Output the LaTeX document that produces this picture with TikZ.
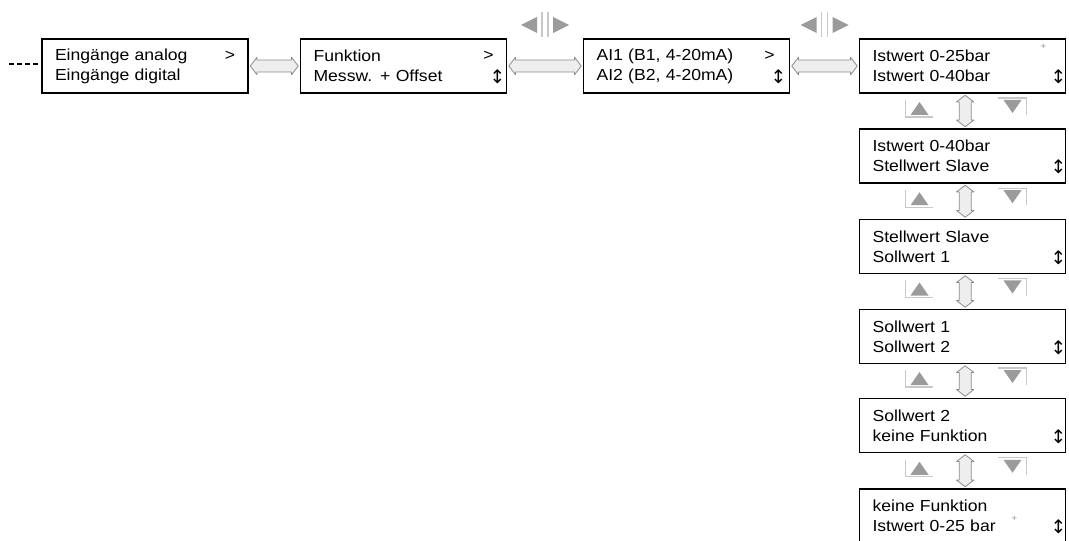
\documentclass[tikz,border=0pt]{standalone}
\usepackage{fontspec}
\setmainfont{Liberation Sans}[FakeStretch=1.1]
\newfontfamily\symfont{DejaVu Sans}
\usepackage{tikz}
\usetikzlibrary{arrows.meta,positioning,calc}
\definecolor{mnGray}  {RGB}{140,140,140}
\definecolor{mnGrayL} {RGB}{238,238,238}
\definecolor{mnIcon}  {RGB}{155,155,155}
\definecolor{mnIconL} {RGB}{200,200,200}

% hollow double-headed link between two anchors
\newcommand{\dblink}[2]{%
  \draw[dbl] (#1)
    -- ($($(#1)!5pt!(#2)$)!6.5pt!90:(#2)$)
    -- ($($(#1)!5pt!(#2)$)!4.5pt!90:(#2)$)
    -- ($($(#2)!5pt!(#1)$)!4.5pt!-90:(#1)$)
    -- ($($(#2)!5pt!(#1)$)!6.5pt!-90:(#1)$)
    -- (#2)
    -- ($($(#2)!5pt!(#1)$)!6.5pt!90:(#1)$)
    -- ($($(#2)!5pt!(#1)$)!4.5pt!90:(#1)$)
    -- ($($(#1)!5pt!(#2)$)!4.5pt!-90:(#2)$)
    -- ($($(#1)!5pt!(#2)$)!6.5pt!-90:(#2)$)
    -- cycle;}

\begin{document}
\begin{tikzpicture}[
  x=0.75pt,y=-0.75pt,
  every node/.style={font=\fontsize{12}{15}\selectfont},
  menu/.style={draw,line width=1.4pt,text width=135pt,inner xsep=9.75pt,
               inner ysep=0pt,minimum height=40.5pt,align=left},
  gt/.style={inner sep=0pt},
  ud/.style={inner sep=0pt,font=\symfont\fontsize{14}{14}\selectfont},
  tick/.style={inner sep=0pt,text=mnIcon,font=\fontsize{7}{7}\selectfont},
  dbl/.style={draw=mnGray,line width=0.6pt,fill=mnGrayL,line join=round},
  lricon/.pic={
    \fill[mnIcon] (-24,0) -- (-8,-8) -- (-8,8) -- cycle;
    \fill[mnIcon] (24,0) -- (8,-8) -- (8,8) -- cycle;
    \draw[mnIconL,line width=0.9pt] (-3,-13) -- (-3,12) (3,-13) -- (3,12);
  },
  udicon/.pic={
    \fill[mnIcon] (-43,-9) -- (-52,4) -- (-34,4) -- cycle;
    \draw[mnIconL,line width=0.9pt] (-57,-11) -- (-57,6) -- (-30,6);
    \fill[mnIcon] (50,2) -- (41,-11) -- (59,-11) -- cycle;
    \draw[mnIconL,line width=0.9pt] (35,-13) -- (64,-13) -- (64,4);
  }
]
\useasboundingbox (0,0) rectangle (1069,541);

% top row
\node[menu] (E)  at (145,66)   {Eingänge analog\\Eingänge digital};
\node[menu] (F)  at (403.5,66) {Funktion\\Messw. + Offset};
\node[menu] (AI) at (686.5,66) {AI1 (B1, 4-20mA)\\AI2 (B2, 4-20mA)};

% right column
\node[menu] (S1) at (962.5,66)    {Istwert 0-25bar\\Istwert 0-40bar};
\node[menu] (S2) at (962.5,156)   {Istwert 0-40bar\\Stellwert Slave};
\node[menu] (S3) at (962.5,246.5) {Stellwert Slave\\Sollwert 1};
\node[menu] (S4) at (962.5,336.5) {Sollwert 1\\Sollwert 2};
\node[menu] (S5) at (962.5,425.5) {Sollwert 2\\keine Funktion};
\node[menu] (S6) at (962.5,516)   {keine Funktion\\Istwert 0-25 bar};

% marks inside the boxes
\node[gt] (gE)  at ($(E.east)+(-19,-10)$)  {>};
\node[gt] (gF)  at ($(F.east)+(-19,-10)$)  {>};
\node[gt] (gAI) at ($(AI.east)+(-21,-10)$) {>};
\node[ud] (uF)  at ($(F.east)+(-10,11)$)   {↕};
\node[ud] (uAI) at ($(AI.east)+(-12,11)$)  {↕};
\node[ud] (u1)  at ($(S1.east)+(-8,11)$)   {↕};
\node[ud] (u2)  at ($(S2.east)+(-8,11)$)   {↕};
\node[ud] (u3)  at ($(S3.east)+(-8,11)$)   {↕};
\node[ud] (u4)  at ($(S4.east)+(-8,11)$)   {↕};
\node[ud] (u5)  at ($(S5.east)+(-8,11)$)   {↕};
\node[ud] (u6)  at ($(S6.east)+(-8,11)$)   {↕};
\node[tick] (p1) at ($(S1.east)+(-23,-19)$) {+};
\node[tick] (p2) at ($(S6.east)+(-52,3)$)   {+};

% entry
\coordinate (in) at (9,64);
\draw[line width=2pt,dash pattern=on 3.5pt off 2.5pt] (in) -- (E.west |- in);

% horizontal links
\dblink{[xshift=1pt]E.east}{[xshift=-1pt]F.west}
\dblink{[xshift=1pt]F.east}{[xshift=-1pt]AI.west}
\dblink{[xshift=1pt]AI.east}{[xshift=-1pt]S1.west}
\pic at ($(F.east)!0.5!(AI.west)+(0,-41)$)  {lricon};
\pic at ($(AI.east)!0.5!(S1.west)+(0,-41)$) {lricon};

% vertical links
\dblink{[xshift=2pt,yshift=-1pt]S1.south}{[xshift=2pt,yshift=1pt]S2.north}
\dblink{[xshift=2pt,yshift=-1pt]S2.south}{[xshift=2pt,yshift=1pt]S3.north}
\dblink{[xshift=2pt,yshift=-1pt]S3.south}{[xshift=2pt,yshift=1pt]S4.north}
\dblink{[xshift=2pt,yshift=-1pt]S4.south}{[xshift=2pt,yshift=1pt]S5.north}
\dblink{[xshift=2pt,yshift=-1pt]S5.south}{[xshift=2pt,yshift=1pt]S6.north}
\pic at ($(S1.south)!0.5!(S2.north)$) {udicon};
\pic at ($(S2.south)!0.5!(S3.north)$) {udicon};
\pic at ($(S3.south)!0.5!(S4.north)$) {udicon};
\pic at ($(S4.south)!0.5!(S5.north)$) {udicon};
\pic at ($(S5.south)!0.5!(S6.north)$) {udicon};
\end{tikzpicture}
\end{document}
